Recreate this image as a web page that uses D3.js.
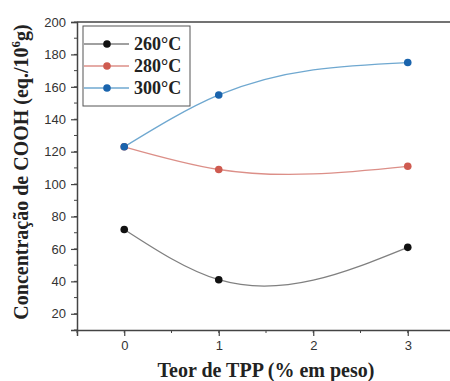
<!DOCTYPE html>
<html>
<head>
<meta charset="utf-8">
<script src="https://cdn.jsdelivr.net/npm/d3@7"></script>
<style>
  html, body { margin: 0; padding: 0; background: #fff; }
  svg { display: block; }
</style>
</head>
<body>
<svg id="chart" width="450" height="381"></svg>
<script>
// TPP content (% by weight) and COOH concentration for each processing temperature
const tppContent = [0, 1, 3];
const series260 = [72, 41, 61];
const series280 = [123, 109, 111];
const series300 = [123, 155, 175];
const seriesNames = ["260°C", "280°C", "300°C"];
const xTicks = [0, 1, 2, 3];
const yTicks = [20, 40, 60, 80, 100, 120, 140, 160, 180, 200];

const seriesList = [
  { name: seriesNames[0], values: series260, marker: "#111111", line: "#808080" },
  { name: seriesNames[1], values: series280, marker: "#cf5b50", line: "#dc8f88" },
  { name: seriesNames[2], values: series300, marker: "#1a64ad", line: "#6fa8d0" }
];

const svg = d3.select("#chart");
const plot = { left: 77, right: 455, top: 22, bottom: 330 };

const x = d3.scaleLinear().domain([-0.5, 3.5]).range([plot.left, plot.right]);
const y = d3.scaleLinear().domain([10, 200]).range([plot.bottom, plot.top]);

const axisColor = "#444";
const tickFont = "'Liberation Sans', Arial, sans-serif";
const titleFont = "'Liberation Serif', 'Times New Roman', serif";

// Minor ticks
const gMinor = svg.append("g");
d3.range(-0.5, 3.51, 0.5).forEach(v => {
  gMinor.append("line")
    .attr("x1", x(v)).attr("x2", x(v))
    .attr("y1", plot.bottom).attr("y2", plot.bottom + 3)
    .attr("stroke", axisColor).attr("stroke-width", 1);
});
d3.range(10, 201, 10).forEach(v => {
  gMinor.append("line")
    .attr("x1", plot.left - 3).attr("x2", plot.left)
    .attr("y1", y(v)).attr("y2", y(v))
    .attr("stroke", axisColor).attr("stroke-width", 1);
});

// X axis
const xAxis = svg.append("g")
  .attr("transform", `translate(0,${plot.bottom})`)
  .call(d3.axisBottom(x).tickValues(xTicks).tickSize(6).tickPadding(5).tickFormat(d3.format("d")));
xAxis.select(".domain").attr("stroke", axisColor).attr("stroke-width", 1.5);
xAxis.selectAll(".tick line").attr("stroke", axisColor).attr("stroke-width", 1.2);
xAxis.selectAll(".tick text")
  .attr("font-family", tickFont).attr("font-size", 13).attr("fill", "#333");

// Y axis
const yAxis = svg.append("g")
  .attr("transform", `translate(${plot.left},0)`)
  .call(d3.axisLeft(y).tickValues(yTicks).tickSize(6).tickPadding(5));
yAxis.select(".domain").attr("stroke", axisColor).attr("stroke-width", 1.5);
yAxis.selectAll(".tick line").attr("stroke", axisColor).attr("stroke-width", 1.2);
yAxis.selectAll(".tick text")
  .attr("font-family", tickFont).attr("font-size", 13).attr("fill", "#333");

// Top frame line
svg.append("line")
  .attr("x1", plot.left).attr("x2", 450)
  .attr("y1", plot.top).attr("y2", plot.top)
  .attr("stroke", axisColor).attr("stroke-width", 1.5);

// Natural cubic spline in x (zero curvature at both ends), each interval
// written as a cubic Bézier whose handles follow the spline's slopes.
function splinePath(xs, ys) {
  const n = xs.length;
  const h = d3.range(n - 1).map(i => xs[i + 1] - xs[i]);
  const M = new Array(n).fill(0);
  if (n > 2) {
    // Thomas algorithm for the interior second derivatives
    const a = [], b = [], c = [], r = [];
    for (let i = 1; i < n - 1; i++) {
      a.push(h[i - 1]);
      b.push(2 * (h[i - 1] + h[i]));
      c.push(h[i]);
      r.push(6 * ((ys[i + 1] - ys[i]) / h[i] - (ys[i] - ys[i - 1]) / h[i - 1]));
    }
    const m = b.length;
    for (let i = 1; i < m; i++) {
      const w = a[i] / b[i - 1];
      b[i] -= w * c[i - 1];
      r[i] -= w * r[i - 1];
    }
    const sol = new Array(m);
    sol[m - 1] = r[m - 1] / b[m - 1];
    for (let i = m - 2; i >= 0; i--) sol[i] = (r[i] - c[i] * sol[i + 1]) / b[i];
    for (let i = 0; i < m; i++) M[i + 1] = sol[i];
  }
  const p = d3.path();
  p.moveTo(x(xs[0]), y(ys[0]));
  for (let i = 0; i < n - 1; i++) {
    const hi = h[i];
    const secant = (ys[i + 1] - ys[i]) / hi;
    const d0 = secant - hi * (2 * M[i] + M[i + 1]) / 6;
    const d1 = secant + hi * (M[i] + 2 * M[i + 1]) / 6;
    p.bezierCurveTo(
      x(xs[i] + hi / 3), y(ys[i] + d0 * hi / 3),
      x(xs[i + 1] - hi / 3), y(ys[i + 1] - d1 * hi / 3),
      x(xs[i + 1]), y(ys[i + 1])
    );
  }
  return p.toString();
}

seriesList.forEach(s => {
  svg.append("path")
    .attr("d", splinePath(tppContent, s.values))
    .attr("fill", "none")
    .attr("stroke", s.line)
    .attr("stroke-width", 1.3);
});

seriesList.forEach(s => {
  svg.append("g").selectAll("circle")
    .data(s.values)
    .join("circle")
    .attr("cx", (d, i) => x(tppContent[i]))
    .attr("cy", d => y(d))
    .attr("r", 3.8)
    .attr("fill", s.marker);
});

// Legend
const legend = svg.append("g");
legend.append("rect")
  .attr("x", 83).attr("y", 26).attr("width", 107).attr("height", 80)
  .attr("fill", "#fff").attr("stroke", "#555").attr("stroke-width", 1);
seriesList.forEach((s, i) => {
  const ly = 44 + i * 22;
  legend.append("line")
    .attr("x1", 84).attr("x2", 129).attr("y1", ly).attr("y2", ly)
    .attr("stroke", s.line).attr("stroke-width", 1.3);
  legend.append("circle")
    .attr("cx", 107).attr("cy", ly).attr("r", 3.8).attr("fill", s.marker);
  legend.append("text")
    .attr("x", 134).attr("y", ly + 6)
    .attr("font-family", titleFont).attr("font-weight", "bold")
    .attr("font-size", 18).attr("fill", "#222")
    .text(s.name);
});

// Axis titles
svg.append("text")
  .attr("x", 266).attr("y", 377)
  .attr("text-anchor", "middle")
  .attr("font-family", titleFont).attr("font-weight", "bold")
  .attr("font-size", 20).attr("fill", "#222")
  .text("Teor de TPP (% em peso)");

const yTitle = svg.append("text")
  .attr("transform", "translate(28,172) rotate(-90)")
  .attr("text-anchor", "middle")
  .attr("font-family", titleFont).attr("font-weight", "bold")
  .attr("font-size", 20).attr("fill", "#222");
yTitle.append("tspan").text("Concentração de COOH (eq./10");
yTitle.append("tspan").attr("dy", -8).attr("font-size", 13).text("6");
yTitle.append("tspan").attr("dy", 8).text("g)");
</script>
</body>
</html>
